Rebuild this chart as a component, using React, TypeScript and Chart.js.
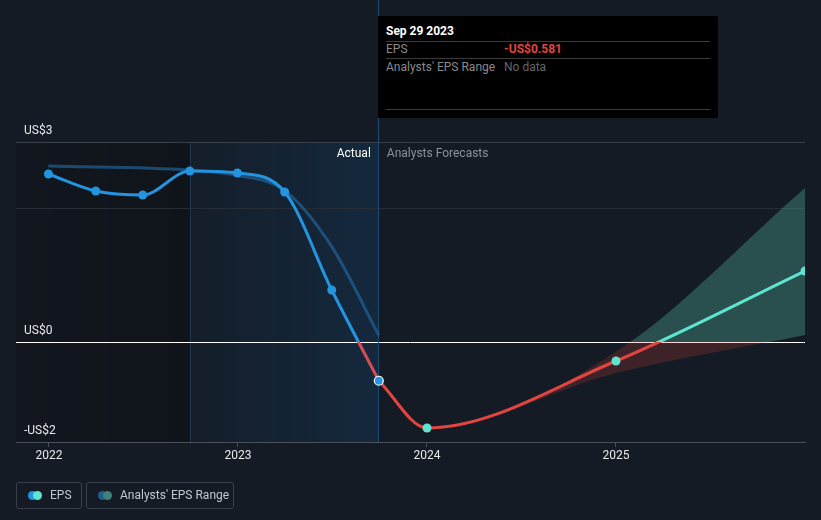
import React, { useEffect, useRef } from "react";
import { Chart, registerables } from "chart.js";

Chart.register(...registerables);

// ---- data (fractional years) ----
const actualDates = [2021.997, 2022.247, 2022.496, 2022.745, 2022.997, 2023.247, 2023.496, 2023.745];
const actualEps = [2.52, 2.265, 2.205, 2.565, 2.535, 2.25, 0.78, -0.581];

const pastEstimateDates = [2021.997, 2022.745, 2022.997, 2023.247, 2023.496, 2023.745];
const pastEstimateEps = [2.64, 2.58, 2.5, 2.27, 1.43, 0.1];

const forecastDates = [2023.745, 2024.0, 2025.0, 2026.0];
const forecastEps = [-0.581, -1.29, -0.285, 1.065];

const rangeDates = [2023.745, 2024.0, 2025.0, 2026.0];
const rangeLow = [-0.581, -1.29, -0.465, 0.105];
const rangeHigh = [-0.581, -1.29, -0.145, 2.31];

const xTicks = [2022, 2023, 2024, 2025];
const yGridValues = [-1.5, 0, 2, 3];
const yLabelValues = [3, 0, -1.5];
const yLabelTexts = ["US$3", "US$0", "-US$2"];

const actualRegionStart = 2022.745;
const actualRegionEnd = 2023.745;
const xMin = 2021.8254;
const xMax = 2026.0;
const yMin = -1.5;
const yMax = 3;

const FONT = 'Roboto, "Open Sans", sans-serif';
const BLUE = "#2394df";
const TEAL = "#5ee5cf";
const RED = "#e2453f";

function signGradient(chart: any, above: string, below: string) {
  const { ctx, chartArea, scales } = chart;
  if (!chartArea) return above;
  const top = chartArea.top;
  const bottom = chartArea.bottom;
  const z = scales.y.getPixelForValue(0);
  const f = Math.min(1, Math.max(0, (z - top) / (bottom - top)));
  const g = ctx.createLinearGradient(0, top, 0, bottom);
  g.addColorStop(0, above);
  g.addColorStop(f, above);
  g.addColorStop(f, below);
  g.addColorStop(1, below);
  return g;
}

const decorPlugin = {
  id: "decor",
  beforeDraw(chart: any) {
    const { ctx, chartArea, scales } = chart;
    const { left, top, bottom } = chartArea;
    const xa = scales.x.getPixelForValue(actualRegionStart);
    const xb = scales.x.getPixelForValue(actualRegionEnd);
    ctx.save();
    // darker past region
    let g = ctx.createLinearGradient(left, 0, xa, 0);
    g.addColorStop(0, "rgba(0,0,0,0.12)");
    g.addColorStop(1, "rgba(0,0,0,0.25)");
    ctx.fillStyle = g;
    ctx.fillRect(left, top, xa - left, bottom - top);
    // actual (last 12 months) region
    g = ctx.createLinearGradient(xa, 0, xb, 0);
    g.addColorStop(0, "rgba(20,70,115,0.08)");
    g.addColorStop(1, "rgba(20,70,115,0.32)");
    ctx.fillStyle = g;
    ctx.fillRect(xa, top, xb - xa, bottom - top);
    // left border of actual region
    ctx.strokeStyle = "rgba(35,85,130,0.45)";
    ctx.lineWidth = 1;
    ctx.beginPath();
    ctx.moveTo(Math.round(xa) + 0.5, top);
    ctx.lineTo(Math.round(xa) + 0.5, bottom);
    ctx.stroke();
    ctx.restore();
  },
  beforeDatasetsDraw(chart: any) {
    const { ctx, chartArea, scales } = chart;
    const xb = scales.x.getPixelForValue(actualRegionEnd);
    ctx.save();
    ctx.strokeStyle = "#1d4b72";
    ctx.lineWidth = 1;
    ctx.beginPath();
    ctx.moveTo(Math.round(xb) - 0.5, 0);
    ctx.lineTo(Math.round(xb) - 0.5, chartArea.bottom);
    ctx.stroke();
    ctx.restore();
  },
  afterDraw(chart: any) {
    const { ctx, chartArea, scales } = chart;
    const xb = scales.x.getPixelForValue(actualRegionEnd);
    ctx.save();
    ctx.font = `12px ${FONT}`;
    ctx.textBaseline = "middle";
    ctx.fillStyle = "#e8e9eb";
    ctx.textAlign = "left";
    yLabelValues.forEach((v, i) => {
      ctx.fillText(yLabelTexts[i], chartArea.left + 8, scales.y.getPixelForValue(v) - 11);
    });
    const ty = chartArea.top + 12;
    ctx.textAlign = "right";
    ctx.fillStyle = "#ffffff";
    ctx.fillText("Actual", xb - 8, ty);
    ctx.textAlign = "left";
    ctx.fillStyle = "#8b9099";
    ctx.fillText("Analysts Forecasts", xb + 8, ty);
    ctx.restore();
  },
};

export default function App() {
  const ref = useRef<HTMLCanvasElement | null>(null);

  useEffect(() => {
    if (!ref.current) return;
    const toPts = (xs: number[], ys: number[]) => xs.map((x, i) => ({ x, y: ys[i] }));
    const chart = new Chart(ref.current, {
      type: "line",
      data: {
        datasets: [
          {
            label: "EPS",
            data: toPts(actualDates, actualEps),
            borderColor: (c: any) => signGradient(c.chart, BLUE, "#d44c58"),
            borderWidth: 3,
            cubicInterpolationMode: "monotone",
            pointRadius: 4.5,
            pointHoverRadius: 4.5,
            pointBackgroundColor: BLUE,
            pointBorderColor: actualDates.map((_, i) => (i === actualDates.length - 1 ? "#ffffff" : BLUE)),
            pointBorderWidth: actualDates.map((_, i) => (i === actualDates.length - 1 ? 1.2 : 0)),
            fill: false,
            order: 1,
          },
          {
            label: "Forecast",
            data: toPts(forecastDates, forecastEps),
            borderColor: (c: any) => signGradient(c.chart, TEAL, RED),
            borderWidth: 3,
            cubicInterpolationMode: "monotone",
            pointRadius: forecastDates.map((_, i) => (i === 0 ? 0 : 4.5)),
            pointBackgroundColor: TEAL,
            pointBorderWidth: 0,
            fill: false,
            clip: { left: 10, top: 10, right: 0, bottom: 10 } as any,
            order: 2,
          },
          {
            label: "Past estimate",
            data: toPts(pastEstimateDates, pastEstimateEps),
            borderColor: "rgba(35,110,170,0.6)",
            borderWidth: 3,
            cubicInterpolationMode: "monotone",
            pointRadius: 0,
            fill: false,
            order: 3,
          },
          {
            label: "Range high",
            data: toPts(rangeDates, rangeHigh),
            borderWidth: 0,
            borderColor: "rgba(0,0,0,0)",
            pointRadius: 0,
            cubicInterpolationMode: "monotone",
            backgroundColor: (c: any) =>
              signGradient(c.chart, "rgba(84,190,170,0.32)", "rgba(226,69,63,0.2)"),
            fill: "+1",
            order: 5,
          },
          {
            label: "Range low",
            data: toPts(rangeDates, rangeLow),
            borderWidth: 0,
            borderColor: "rgba(0,0,0,0)",
            pointRadius: 0,
            cubicInterpolationMode: "monotone",
            fill: false,
            order: 6,
          },
        ],
      },
      options: {
        animation: false,
        responsive: false,
        devicePixelRatio: 1,
        events: [],
        layout: { padding: { top: 142, left: 16, right: 16, bottom: 50 } },
        plugins: {
          legend: { display: false },
          tooltip: { enabled: false },
        },
        scales: {
          x: {
            type: "linear",
            min: xMin,
            max: xMax,
            afterBuildTicks: (s: any) => {
              s.ticks = xTicks.map((v) => ({ value: v }));
            },
            afterFit: (s: any) => {
              s.height = 28;
            },
            ticks: {
              color: "#e8e9eb",
              font: { family: FONT, size: 12 },
              padding: 2,
              maxRotation: 0,
              callback: (v: any) => String(v),
            },
            grid: {
              display: true,
              drawOnChartArea: false,
              drawTicks: true,
              tickLength: 5,
              color: "#4a4f59",
            },
            border: { display: true, color: "#4a4f59", width: 1 },
          },
          y: {
            type: "linear",
            min: yMin,
            max: yMax,
            afterBuildTicks: (s: any) => {
              s.ticks = yGridValues.map((v) => ({ value: v }));
            },
            afterFit: (s: any) => {
              s.width = 0;
            },
            ticks: { display: false },
            grid: {
              drawTicks: false,
              color: (c: any) => {
                const v = c.tick ? c.tick.value : null;
                if (v === 0) return "#ffffff";
                if (v === 3) return "#3a3f49";
                if (v === -1.5) return "rgba(0,0,0,0)";
                return "#272d37";
              },
              lineWidth: 1,
            },
            border: { display: false },
          },
        },
      },
      plugins: [decorPlugin],
    } as any);
    return () => chart.destroy();
  }, []);

  const rowLine: React.CSSProperties = {
    position: "absolute",
    left: 8,
    right: 8,
    height: 1,
    background: "#3a3a3a",
  };

  return (
    <div
      style={{
        position: "absolute",
        left: 0,
        top: 0,
        width: 821,
        height: 520,
        background: "#151b24",
        fontFamily: FONT,
        overflow: "hidden",
      }}
    >
      <canvas ref={ref} width={821} height={520} style={{ position: "absolute", left: 0, top: 0, width: 821, height: 520 }} />
      {/* tooltip box */}
      <div
        style={{
          position: "absolute",
          left: 378,
          top: 16,
          width: 340,
          height: 102,
          background: "#000000",
          fontSize: 12,
        }}
      >
        <div style={{ position: "absolute", left: 8, top: 8, color: "#ffffff", fontWeight: 700 }}>Sep 29 2023</div>
        <div style={{ ...rowLine, top: 25 }} />
        <div style={{ position: "absolute", left: 8, top: 26, color: "#8a8a8a" }}>EPS</div>
        <div style={{ position: "absolute", left: 126, top: 26, color: "#e2453f", fontWeight: 700 }}>-US$0.581</div>
        <div style={{ ...rowLine, top: 42 }} />
        <div style={{ position: "absolute", left: 8, top: 44, color: "#8a8a8a" }}>Analysts' EPS Range</div>
        <div style={{ position: "absolute", left: 126, top: 44, color: "#666666" }}>No data</div>
        <div style={{ ...rowLine, top: 93 }} />
      </div>
      {/* legend */}
      <div
        style={{
          position: "absolute",
          left: 16,
          top: 482,
          width: 66,
          height: 27,
          border: "1px solid #3a3f49",
          borderRadius: 3,
          boxSizing: "border-box",
        }}
      >
        <span style={{ position: "absolute", left: 11, top: 8, width: 9, height: 9, borderRadius: 5, background: BLUE }} />
        <span style={{ position: "absolute", left: 16, top: 8, width: 9, height: 9, borderRadius: 5, background: TEAL }} />
        <span style={{ position: "absolute", left: 33, top: 5, fontSize: 12, color: "#c3c6cc" }}>EPS</span>
      </div>
      <div
        style={{
          position: "absolute",
          left: 86,
          top: 482,
          width: 148,
          height: 27,
          border: "1px solid #3a3f49",
          borderRadius: 3,
          boxSizing: "border-box",
        }}
      >
        <span style={{ position: "absolute", left: 11, top: 8, width: 9, height: 9, borderRadius: 5, background: "#1f5f8c" }} />
        <span style={{ position: "absolute", left: 16, top: 8, width: 9, height: 9, borderRadius: 5, background: "#3f8079" }} />
        <span style={{ position: "absolute", left: 33, top: 5, fontSize: 12, color: "#c3c6cc" }}>Analysts' EPS Range</span>
      </div>
    </div>
  );
}
